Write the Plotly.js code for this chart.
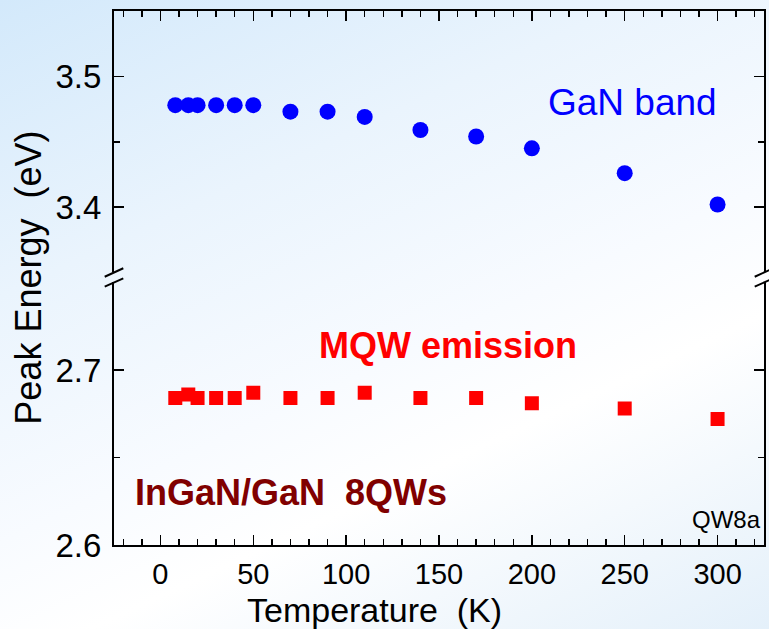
<!DOCTYPE html>
<html>
<head>
<meta charset="utf-8">
<script src="https://cdn.plot.ly/plotly-3.0.1.min.js"></script>
<style>
  html, body { margin: 0; padding: 0; }
  body { width: 769px; height: 629px; overflow: hidden;
    background: linear-gradient(155deg, #d3e9fb 0%, #eaf4fd 30%, #f8fbff 55%, #ffffff 68%, #e4f0fa 100%); }
  #chart { width: 769px; height: 629px; }
</style>
</head>
<body>
<div id="chart"></div>
<script>
// Data
const temperature = [8, 15, 20, 30, 40, 50, 70, 90, 110, 140, 170, 200, 250, 300];
const ganBand     = [3.478, 3.478, 3.478, 3.478, 3.478, 3.478, 3.473, 3.473, 3.469, 3.459, 3.454, 3.445, 3.426, 3.402];
const mqwEmission = [2.684, 2.686, 2.684, 2.684, 2.684, 2.687, 2.684, 2.684, 2.687, 2.684, 2.684, 2.681, 2.678, 2.672];
const xTickVals = [0, 50, 100, 150, 200, 250, 300];
const yLowTicks = [2.6, 2.7];
const yHighTicks = [3.4, 3.5];

const font = 'Liberation Sans, Arial, sans-serif';

const traces = [
  { x: temperature, y: mqwEmission, xaxis: 'x', yaxis: 'y', type: 'scatter', mode: 'markers',
    marker: { symbol: 'square', size: 14, color: '#ff0000' }, name: 'MQW emission' },
  { x: temperature, y: ganBand, xaxis: 'x2', yaxis: 'y2', type: 'scatter', mode: 'markers',
    marker: { symbol: 'circle', size: 16, color: '#0000ff' }, name: 'GaN band' }
];

const axisCommon = { showgrid: false, zeroline: false, showline: true, linecolor: '#000', linewidth: 2,
  ticks: 'inside', ticklen: 10, tickwidth: 1.5, tickcolor: '#000' };

const lowTop = 0.4916, highBot = 0.5103;
const brk = (xc) => [
  { type: 'line', xref: 'paper', yref: 'paper', x0: xc - 0.0143, y0: 0.5024, x1: xc + 0.0143, y1: 0.5182, line: { color: '#000', width: 2 } },
  { type: 'line', xref: 'paper', yref: 'paper', x0: xc - 0.0143, y0: 0.4837, x1: xc + 0.0143, y1: 0.4994, line: { color: '#000', width: 2 } }
];

const layout = {
  width: 769, height: 629,
  margin: { l: 114, r: 5, t: 11, b: 84 },
  paper_bgcolor: 'rgba(0,0,0,0)', plot_bgcolor: 'rgba(0,0,0,0)',
  showlegend: false,
  font: { family: font, color: '#000' },
  xaxis: Object.assign({}, axisCommon, { domain: [0, 1], anchor: 'y', range: [-25, 325],
    tickmode: 'array', tickvals: xTickVals, ticktext: xTickVals.map(String),
    tickfont: { size: 29, family: font }, ticklabelstandoff: 2,
    minor: { ticks: 'inside', ticklen: 6, dtick: 10, tick0: 0, tickwidth: 1.5, tickcolor: '#000' } }),
  xaxis2: Object.assign({}, axisCommon, { domain: [0, 1], anchor: 'y2', side: 'top', matches: 'x', range: [-25, 325],
    showticklabels: false, tickmode: 'array', tickvals: xTickVals,
    minor: { ticks: 'inside', ticklen: 6, dtick: 10, tick0: 0, tickwidth: 1.5, tickcolor: '#000' } }),
  yaxis: Object.assign({}, axisCommon, { domain: [0, lowTop], anchor: 'x', range: [2.6, 2.75], mirror: 'allticks',
    tickmode: 'array', tickvals: yLowTicks, ticktext: ['2.6', '2.7'],
    tickfont: { size: 33, family: font }, ticklabelstandoff: 4,
    minor: { ticks: 'inside', ticklen: 6, dtick: 0.05, tick0: 2.6, tickwidth: 1.5, tickcolor: '#000' } }),
  yaxis2: Object.assign({}, axisCommon, { domain: [highBot, 1], anchor: 'x2', range: [3.35, 3.55], mirror: 'allticks',
    tickmode: 'array', tickvals: yHighTicks, ticktext: ['3.4', '3.5'],
    tickfont: { size: 33, family: font }, ticklabelstandoff: 4,
    minor: { ticks: 'inside', ticklen: 6, dtick: 0.05, tick0: 3.35, tickwidth: 1.5, tickcolor: '#000' } }),
  shapes: [].concat(brk(0), brk(1)),
  annotations: [
    { text: 'GaN band', xref: 'x2', yref: 'y2', x: 254, y: 3.48, xanchor: 'center', yanchor: 'middle', showarrow: false,
      font: { family: font, size: 37, color: '#0000ff' } },
    { text: '<b>MQW emission</b>', xref: 'x', yref: 'y', x: 154.6, y: 2.714, xanchor: 'center', yanchor: 'middle', showarrow: false,
      font: { family: font, size: 36, color: '#ff0000' } },
    { text: '<b>InGaN/GaN  8QWs</b>', xref: 'x', yref: 'y', x: 70.3, y: 2.630, xanchor: 'center', yanchor: 'middle', showarrow: false,
      font: { family: font, size: 36, color: '#800000' } },
    { text: 'QW8a', xref: 'paper', yref: 'paper', x: 0.999, y: 0.047, xanchor: 'right', yanchor: 'middle', showarrow: false,
      font: { family: font, size: 24, color: '#000' } },
    { text: 'Peak Energy  (eV)', xref: 'paper', yref: 'paper', x: -0.132, y: 0.501, xanchor: 'center', yanchor: 'middle',
      textangle: -90, showarrow: false, font: { family: font, size: 36, color: '#000' } },
    { text: 'Temperature  (K)', xref: 'paper', yref: 'paper', x: 0.4015, y: -0.1217, xanchor: 'center', yanchor: 'middle',
      showarrow: false, font: { family: font, size: 34, color: '#000' } }
  ]
};

Plotly.newPlot('chart', traces, layout, { displayModeBar: false, staticPlot: true });
</script>
</body>
</html>
